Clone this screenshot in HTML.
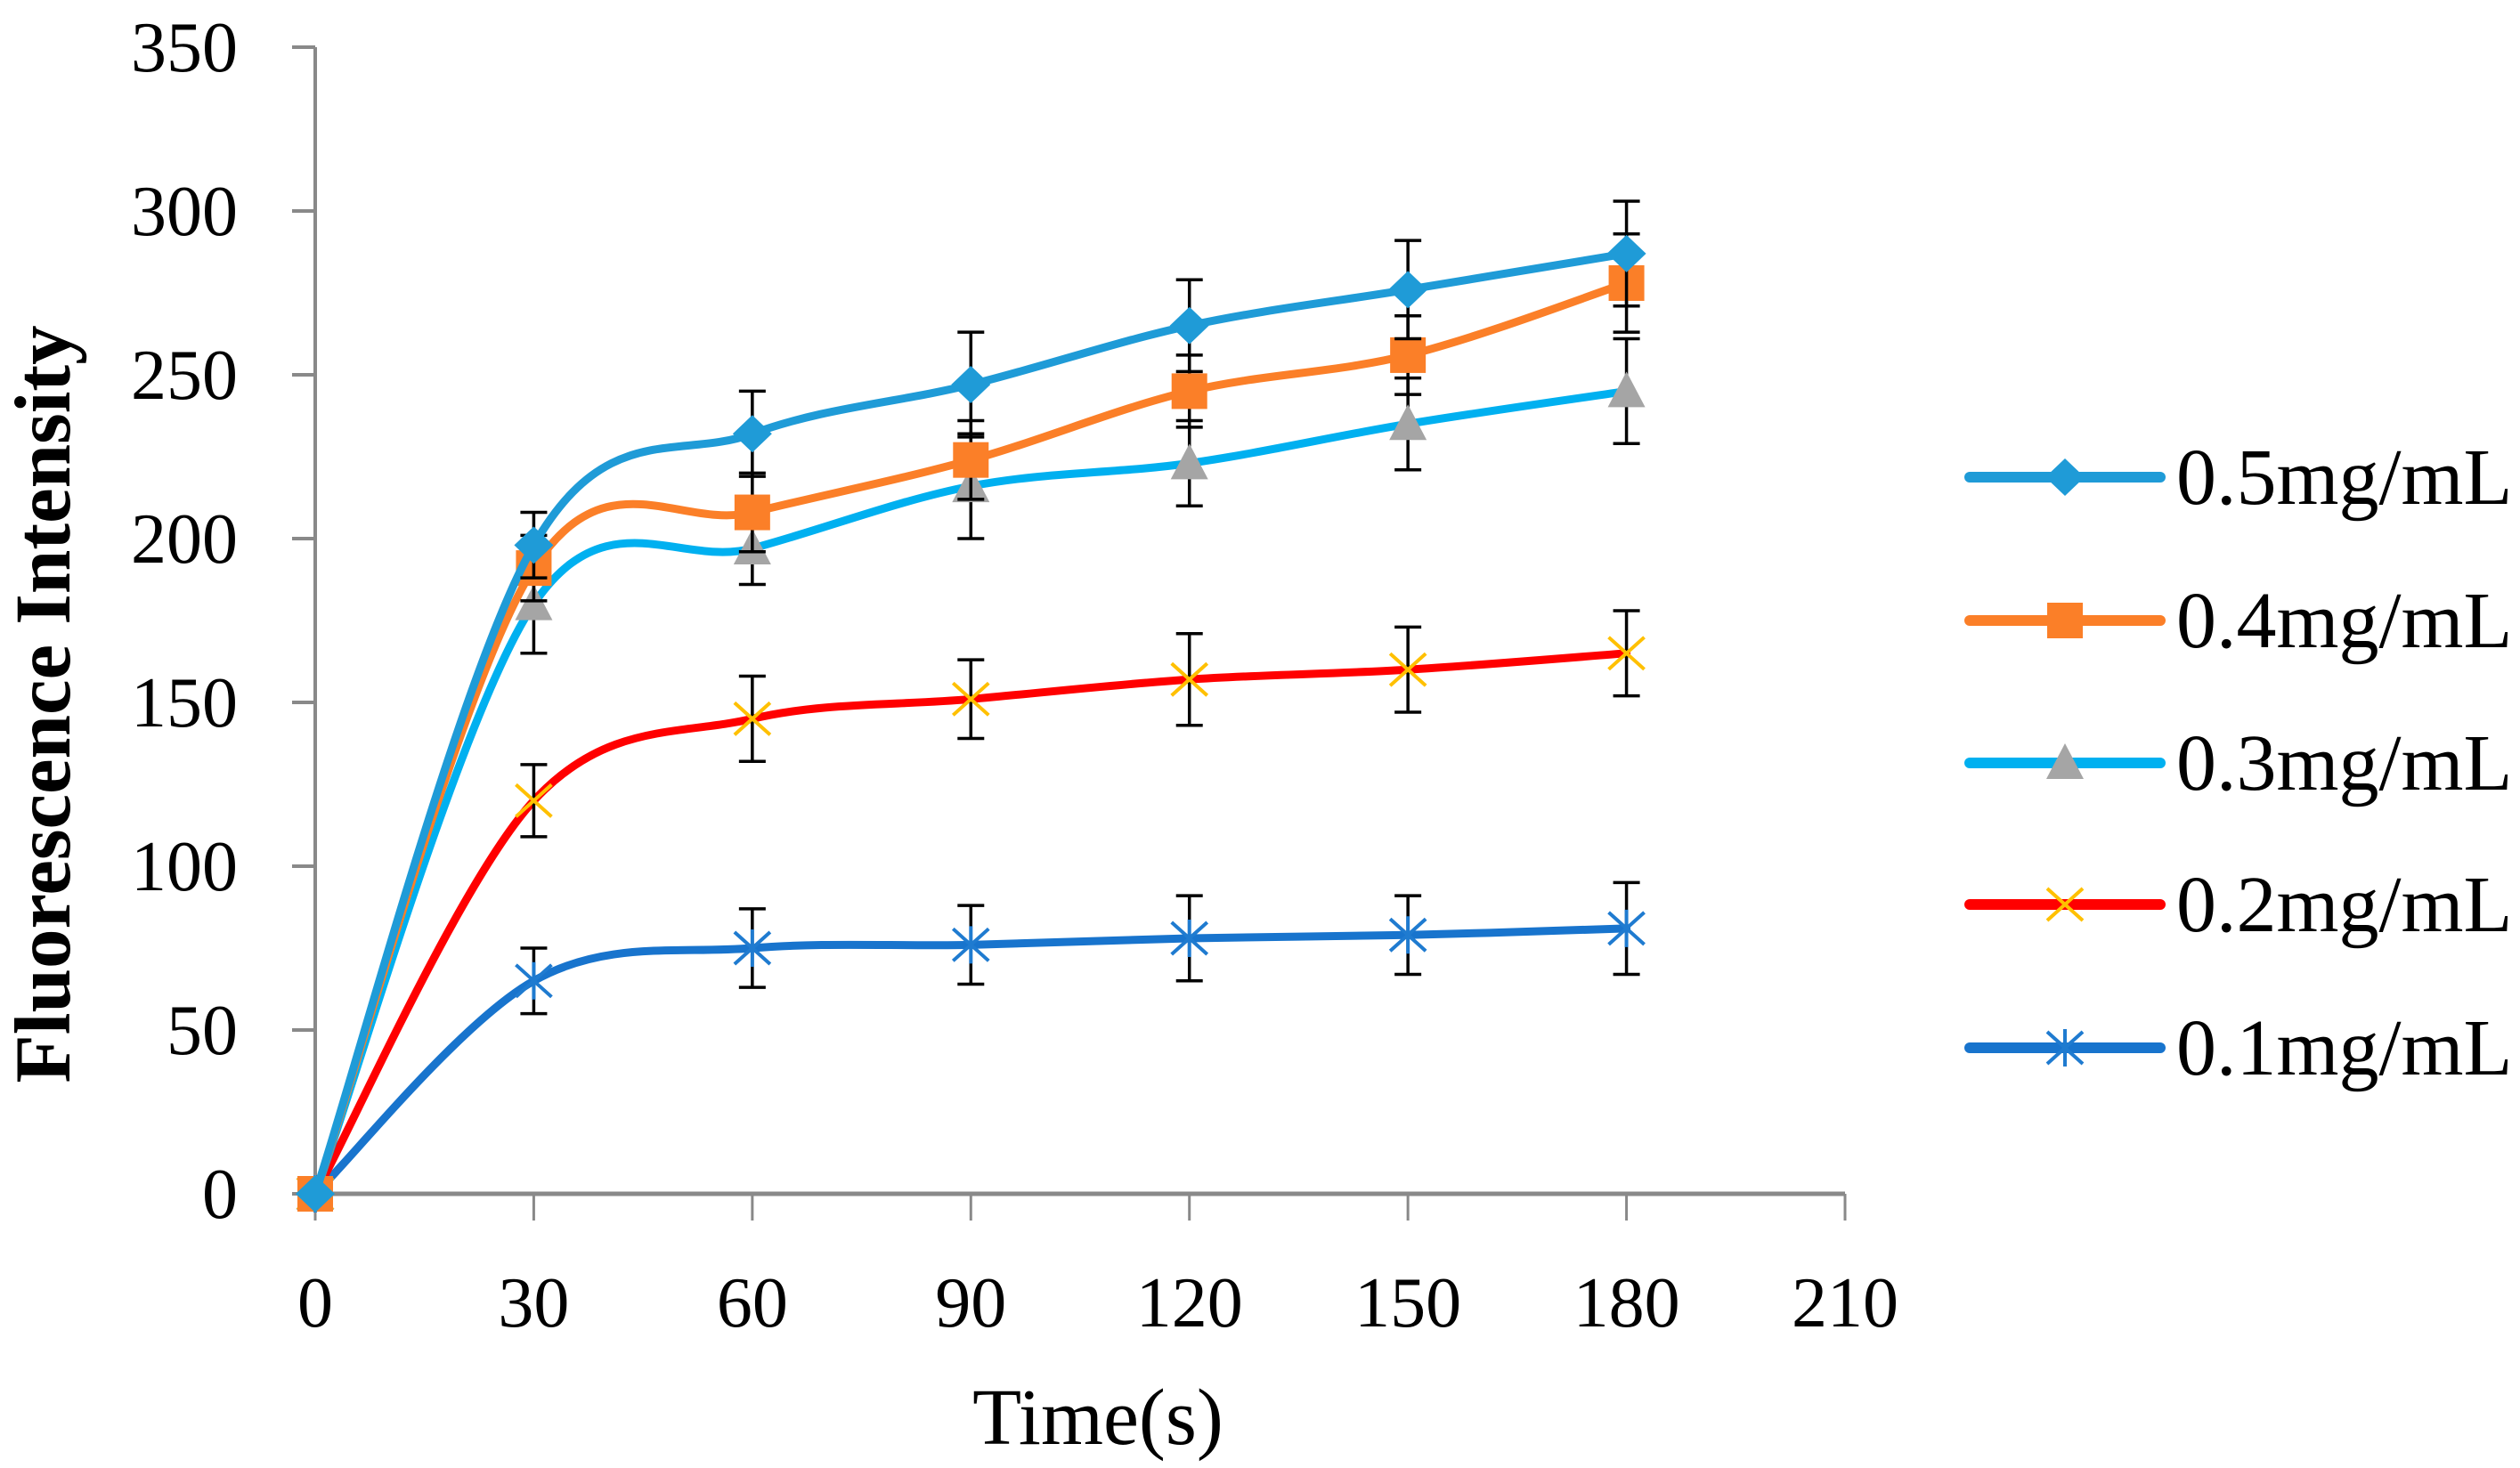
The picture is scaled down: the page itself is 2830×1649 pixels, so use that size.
<!DOCTYPE html>
<html><head><meta charset="utf-8"><style>
html,body{margin:0;padding:0;background:#fff;}
svg{display:block;}
text{font-family:"Liberation Serif",serif;fill:#000;}
</style></head><body>
<svg id="chart" width="2830" height="1649" viewBox="0 0 2830 1649" xmlns="http://www.w3.org/2000/svg">
<text x="0" y="0" transform="translate(78,791) rotate(-90)" text-anchor="middle" font-size="89" font-weight="bold">Fluorescence Intensity</text>
<text x="1233" y="1622" text-anchor="middle" font-size="90">Time(s)</text>
<g id="axes"></g><g id="series"></g><g id="legend"></g>
</svg>
<script>
const xTicks=[0,30,60,90,120,150,180,210];
const yTicks=[0,50,100,150,200,250,300,350];
const times=[0,30,60,90,120,150,180];
const seriesNames=["0.5mg/mL","0.4mg/mL","0.3mg/mL","0.2mg/mL","0.1mg/mL"];
const v05=[0,198,232,247,265,276,287];
const v04=[0,191,208,224,245,256,278];
const v03=[0,180,197,216,223,235,245];
const v02=[0,120,145,151,157,160,165];
const v01=[0,65,75,76,78,79,81];
const e05=[0,10,13,16,14,15,16];
const e04=[0,10,12,12,11,12,15];
const e03=[0,15,11,16,13,14,16];
const e02=[0,11,13,12,14,13,13];
const e01=[0,10,12,12,13,12,14];
const NS="http://www.w3.org/2000/svg";
const X0=354,X1=2072,Y0=1341,Y1=53;
const sx=v=>X0+(v-0)/(210)*(X1-X0);
const sy=v=>Y0-(v/350)*(Y0-Y1);
function mk(tag,attrs,parent){const e=document.createElementNS(NS,tag);for(const k in attrs)e.setAttribute(k,attrs[k]);parent.appendChild(e);return e;}
const axes=document.getElementById('axes');
let el=mk('line',{x1:X0,y1:Y1,x2:X0,y2:Y0,stroke:'#898989','stroke-width':4},axes);


el=mk('line',{x1:X0,y1:Y0,x2:X1,y2:Y0,stroke:'#898989','stroke-width':5},axes);


yTicks.forEach(t=>{
  const y=sy(t);
  let l=mk('line',{x1:X0-26,y1:y,x2:X0,y2:y,stroke:'#898989','stroke-width':4},axes);
  
  
  let tx=mk('text',{x:267,y:y+27,'text-anchor':'end','font-size':80},axes);tx.textContent=t;
  
  
});
xTicks.forEach(t=>{
  const x=sx(t);
  let l=mk('line',{x1:x,y1:Y0,x2:x,y2:Y0+30,stroke:'#898989','stroke-width':3},axes);
  
  
  let tx=mk('text',{x:x,y:1490,'text-anchor':'middle','font-size':80},axes);tx.textContent=t;
  
  
});
const colors=['#1F9BD7','#FB7F28','#00B0F0','#FF0000','#1874CD'];
const vals=[v05,v04,v03,v02,v01];
const errs=[e05,e04,e03,e02,e01];
const markers=['diamond','square','triangle','x','star'];
function marker(type,x,y,g){
  let m;
  if(type==='diamond'){m=mk('path',{d:`M${x} ${y-21}L${x+22} ${y}L${x} ${y+21}L${x-22} ${y}Z`,fill:'#1F9BD7'},g);}
  else if(type==='square'){m=mk('rect',{x:x-20,y:y-20,width:40,height:40,fill:'#FB7F28'},g);}
  else if(type==='triangle'){m=mk('path',{d:`M${x} ${y-22}L${x+21} ${y+18}L${x-21} ${y+18}Z`,fill:'#A5A5A5'},g);}
  else if(type==='x'){m=mk('path',{d:`M${x-20} ${y-18}L${x+20} ${y+18}M${x+20} ${y-18}L${x-20} ${y+18}`,stroke:'#FFC000','stroke-width':4,fill:'none'},g);}
  else {m=mk('path',{d:`M${x-20} ${y-18}L${x+20} ${y+18}M${x+20} ${y-18}L${x-20} ${y+18}M${x} ${y-21}L${x} ${y+21}`,stroke:'#1F7BD0','stroke-width':4,fill:'none'},g);}
  return m;
}
function smoothPath(pts){
  let d=`M${pts[0][0]} ${pts[0][1]}`;
  for(let i=0;i<pts.length-1;i++){
    const p0=pts[Math.max(0,i-1)],p1=pts[i],p2=pts[i+1],p3=pts[Math.min(pts.length-1,i+2)];
    const t=1/6;
    const c1=[p1[0]+(p2[0]-p0[0])*t,p1[1]+(p2[1]-p0[1])*t];
    const c2=[p2[0]-(p3[0]-p1[0])*t,p2[1]-(p3[1]-p1[1])*t];
    d+=`C${c1[0]} ${c1[1]} ${c2[0]} ${c2[1]} ${p2[0]} ${p2[1]}`;
  }
  return d;
}
const sg=document.getElementById('series');
const groups=[];
for(let s=vals.length-1;s>=0;s--){
  const g=mk('g',{},sg);
  
  
  const pts=times.map((t,i)=>[sx(t),sy(vals[s][i])]);
  const p=mk('path',{d:smoothPath(pts),stroke:colors[s],'stroke-width':9,fill:'none','stroke-linecap':'round','stroke-linejoin':'round'},g);
  
  
  groups[s]=g;
}
for(let s=vals.length-1;s>=0;s--){
  const g=groups[s];
  times.forEach((t,i)=>{
    const x=sx(t),v=vals[s][i],e=errs[s][i];
    if(e>0){
      const eb=mk('path',{d:`M${x} ${sy(v-e)}L${x} ${sy(v+e)}M${x-15} ${sy(v+e)}L${x+15} ${sy(v+e)}M${x-15} ${sy(v-e)}L${x+15} ${sy(v-e)}`,stroke:'#000','stroke-width':3.5,fill:'none'},g);
      
      
    }
  });
}
for(let s=vals.length-1;s>=0;s--){
  const g=groups[s];
  times.forEach((t,i)=>{
    const m=marker(markers[s],sx(t),sy(vals[s][i]),g);
    
    
  });
}
const lg=document.getElementById('legend');


const legY=[536,697,857,1016,1177];
seriesNames.forEach((n,s)=>{
  const g=mk('g',{},lg);
  
  
  const y=legY[s];
  mk('line',{x1:2212,y1:y,x2:2426,y2:y,stroke:colors[s],'stroke-width':12,'stroke-linecap':'round'},g);
  marker(markers[s],2319,y,g);
  const tx=mk('text',{x:2444,y:y+30,'font-size':90},g);tx.textContent=n;
});
</script>
</body></html>
